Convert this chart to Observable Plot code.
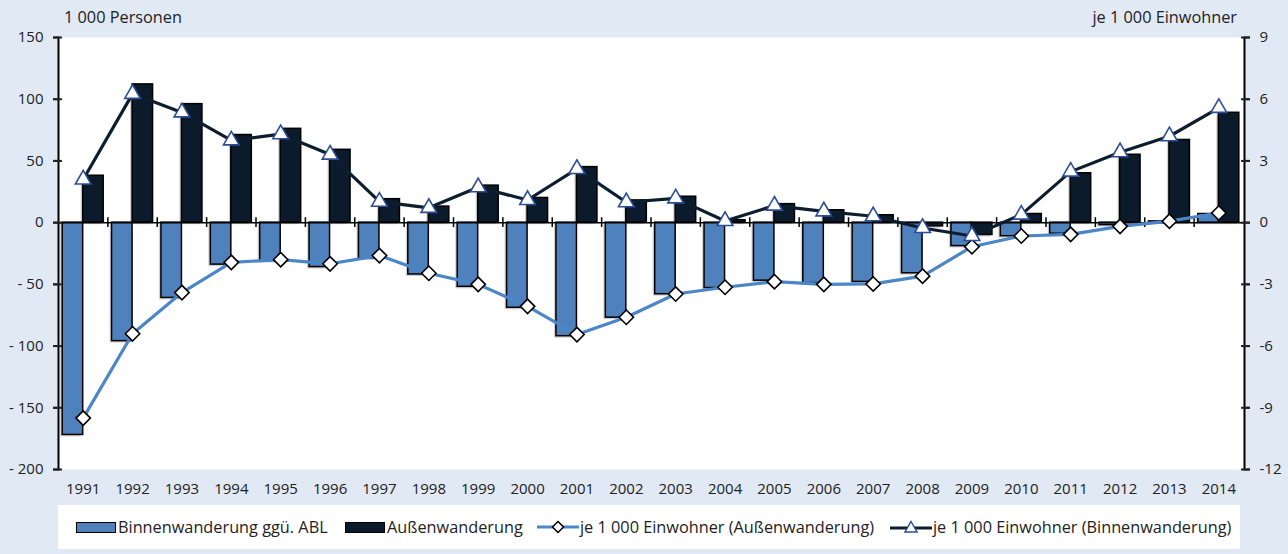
<!DOCTYPE html>
<html>
<head>
<meta charset="utf-8">
<script src="https://cdn.jsdelivr.net/npm/d3@7"></script>
<script src="https://cdn.jsdelivr.net/npm/@observablehq/plot@0.6"></script>
<style>
  html, body { margin: 0; padding: 0; background: #e1e9f5; }
  #wrap { position: relative; width: 1288px; height: 554px; font-family: "Open Sans", sans-serif; color: #222; font-size: 16.3px; }
  .ttl { position: absolute; top: 6px; font-size: 16.3px; white-space: nowrap; }
  #chart { position: absolute; left: 0; top: 0; }
  #legend { position: absolute; left: 58px; top: 505px; width: 1182px; height: 44px; background: #fff; }
  .li { position: absolute; top: 0; height: 44px; display: flex; align-items: center; white-space: nowrap; font-size: 16.3px; }
  .sw { width: 38px; height: 9px; border: 1.5px solid #000; margin-right: 2px; }
</style>
</head>
<body>
<div id="wrap">
  <div class="ttl" style="left:64px">1 000 Personen</div>
  <div class="ttl" style="right:51px">je 1 000 Einwohner</div>
  <div id="chart"></div>
  <div id="legend">
    <div class="li" style="left:18px"><div class="sw" style="background:#4f81bd"></div>Binnenwanderung ggü. ABL</div>
    <div class="li" style="left:287px"><div class="sw" style="background:#0b1b2b"></div>Außenwanderung</div>
    <div class="li" style="left:479px"><svg width="42" height="16" style="margin-right:1px"><line x1="0" x2="42" y1="8" y2="8" stroke="#4a86c8" stroke-width="3"/><path d="M21,2.5 L26.5,8 L21,13.5 L15.5,8 Z" fill="#fff" stroke="#000" stroke-width="1.5"/></svg>je 1 000 Einwohner (Außenwanderung)</div>
    <div class="li" style="left:832px"><svg width="42" height="16" style="margin-right:1px"><line x1="0" x2="42" y1="9" y2="9" stroke="#0c1e2e" stroke-width="3"/><path d="M21,2.5 L27,13 L15,13 Z" fill="#fff" stroke="#2c4d96" stroke-width="1.5"/></svg>je 1 000 Einwohner (Binnenwanderung)</div>
  </div>
</div>
<script>
const years = [1991,1992,1993,1994,1995,1996,1997,1998,1999,2000,2001,2002,2003,2004,2005,2006,2007,2008,2009,2010,2011,2012,2013,2014];
// 1 000 Personen
const binnen = [-172,-96,-61,-34,-31,-36,-29,-42,-52,-69,-92,-77,-58,-53,-47,-49,-48,-41,-19,-11,-9,-2,1,7];
const aussen = [38,112,96,71,76,59,19,13,30,20,45,18,21,2,15,10,6,-3,-10,7,40,55,67,89];
// je 1 000 Einwohner
const jeAussen = [-9.5,-5.4,-3.4,-1.93,-1.8,-2.0,-1.6,-2.46,-3.0,-4.07,-5.44,-4.6,-3.47,-3.14,-2.87,-3.0,-2.98,-2.6,-1.17,-0.65,-0.57,-0.18,0.07,0.47];
const jeBinnen = [2.1,6.26,5.36,4.0,4.3,3.31,1.02,0.72,1.72,1.1,2.61,0.99,1.18,0.08,0.83,0.55,0.31,-0.26,-0.65,0.39,2.48,3.42,4.2,5.58];
const leftTicks = [150,100,50,0,-50,-100,-150,-200];
const rightTicks = [9,6,3,0,-3,-6,-9,-12];

const ratio = 50 / 3; // right axis -> left axis units
const rows = years.map((y, i) => ({year: y, binnen: binnen[i], aussen: aussen[i], jeA: jeAussen[i], jeB: jeBinnen[i]}));

const W = 1288, mL = 58, mR = 45;
const step = (W - mL - mR) / years.length;
const barW = 20.5;
const inOuter = step / 2 - barW;
const inInner = step / 2;

const fmtLeft = d => d < 0 ? "- " + (-d) : String(d);

const chart = Plot.plot({
  width: W,
  height: 500,
  marginTop: 37,
  marginBottom: 31,
  marginLeft: mL,
  marginRight: mR,
  style: {fontFamily: "'Open Sans', sans-serif", fontSize: "15px", color: "#222", background: "transparent"},
  x: {type: "band", domain: years, padding: 0, round: false, axis: null},
  y: {domain: [-200, 150], axis: null},
  marks: [
    Plot.frame({fill: "#fff", stroke: null}),
    // shadows
    Plot.barY(rows, {x: "year", y: "binnen", insetLeft: inOuter, insetRight: inInner, fill: "#9a9a9a", fillOpacity: 0.45, dx: -2, dy: 2}),
    Plot.barY(rows, {x: "year", y: "aussen", insetLeft: inInner, insetRight: inOuter, fill: "#9a9a9a", fillOpacity: 0.45, dx: -2, dy: 2}),
    Plot.barY(rows, {x: "year", y: "binnen", insetLeft: inOuter, insetRight: inInner, fill: "#4f81bd", stroke: "#000", strokeWidth: 1.5}),
    Plot.barY(rows, {x: "year", y: "aussen", insetLeft: inInner, insetRight: inOuter, fill: "#0b1b2b", stroke: "#000", strokeWidth: 1.5}),
    Plot.ruleY([0], {stroke: "#000", strokeWidth: 1.5, insetLeft: -1, insetRight: -1}),
    Plot.ruleX(years.slice(0, -1), {x: d => d, dx: step / 2, y1: -4, y2: 4, stroke: "#000", strokeWidth: 1.5}),
    // lines
    Plot.line(rows, {x: "year", y: d => d.jeB * ratio, stroke: "#0c1e2e", strokeWidth: 3.2}),
    Plot.line(rows, {x: "year", y: d => d.jeA * ratio, stroke: "#4a86c8", strokeWidth: 3.2}),
    Plot.dot(rows, {x: "year", y: d => d.jeA * ratio, symbol: "diamond2", r: 6.5, fill: "#fff", stroke: "#000", strokeWidth: 1.6}),
    Plot.dot(rows, {x: "year", y: d => d.jeB * ratio, symbol: "triangle2", r: 7.5, fill: "#fff", stroke: "#2c4d96", strokeWidth: 1.6}),
    // axes
    Plot.frame({anchor: "left", stroke: "#000", strokeWidth: 2}),
    Plot.frame({anchor: "right", stroke: "#000", strokeWidth: 2, dx: 1}),
    Plot.axisY({anchor: "left", ticks: leftTicks, tickFormat: fmtLeft, tickSize: 5, tickPadding: 10, strokeWidth: 2, label: null}),
    Plot.axisY({anchor: "left", ticks: leftTicks, tickFormat: () => "", tickSize: 9, dx: 4, strokeWidth: 2, label: null}),
    Plot.axisY({anchor: "right", ticks: rightTicks.map(t => t * ratio), tickFormat: (d, i) => String(rightTicks[i]), tickSize: 5, tickPadding: 10, strokeWidth: 2, dx: 1, label: null}),
    Plot.axisY({anchor: "right", ticks: rightTicks.map(t => t * ratio), tickFormat: () => "", tickSize: 9, dx: -3, strokeWidth: 2, label: null}),
    Plot.axisX({anchor: "bottom", tickSize: 0, tickPadding: 14, tickFormat: d => String(d), label: null})
  ]
});
document.getElementById("chart").appendChild(chart);
</script>
</body>
</html>
